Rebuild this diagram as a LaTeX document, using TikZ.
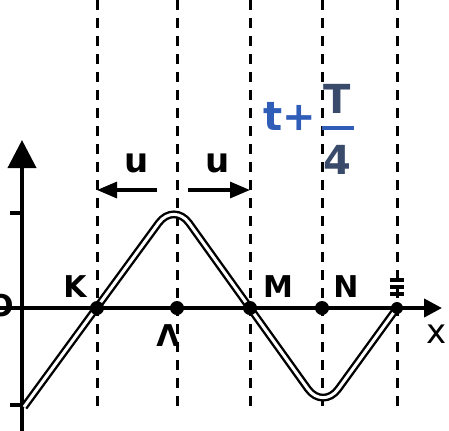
\documentclass[tikz,border=0pt]{standalone}
\usepackage{fontspec}
\setmainfont{DejaVu Sans}
\usetikzlibrary{arrows.meta}
\definecolor{penblue}{HTML}{2F5DB8}
\definecolor{penfrac}{HTML}{3A4A6A}
\tikzset{
  guide/.style={line width=1.5pt, dash pattern=on 5pt off 4pt},
  axis/.style={line width=2pt},
  wave/.style={double=white, double distance=1.5pt, line width=1.2pt, rounded corners=13pt, line join=round},
  lbl/.style={font=\fontsize{15}{18}\selectfont\bfseries, inner sep=0pt},
  ulbl/.style={font=\fontsize{17}{20}\selectfont\bfseries, inner sep=0pt},
  pt/.style={circle, fill=black, inner sep=0pt, minimum size=7pt},
  uarrow/.style={line width=1.6pt, -{Triangle[length=10pt,width=8pt]}}
}
\begin{document}
\begin{tikzpicture}[x=0.5pt,y=-0.5pt]
\useasboundingbox (0,0) rectangle (449,430);
% vertical dashed guide lines
\foreach \n/\x in {gK/97, gA/177, gM/250, gN/322, gE/397}{
  \coordinate (\n t) at (\x,0);
  \coordinate (\n b) at (\x,410);
  \draw[guide] (\n t) -- (\n b);
}
% axes
\coordinate (ybot) at (22,432);
\coordinate (ytop) at (22,140);
\coordinate (xl) at (0,308);
\coordinate (xr) at (442,308);
\draw[axis, -{Triangle[length=14pt,width=14pt]}] (ybot) -- (ytop);
\draw[axis, -{Triangle[length=9pt,width=9pt]}] (xl) -- (xr);
\coordinate (t1a) at (10,213); \coordinate (t1b) at (22,213);
\coordinate (t2a) at (10,405); \coordinate (t2b) at (22,405);
\draw[axis] (t1a) -- (t1b);
\draw[axis] (t2a) -- (t2b);
% wave
\coordinate (w0) at (24,407);
\coordinate (w1) at (174,202);
\coordinate (w2) at (323,410);
\coordinate (w3) at (397,308);
\draw[wave] (w0) -- (w1) -- (w2) -- (w3);
% points
\node[pt] (K) at (97,308) {};
\node[pt] (A) at (177,308) {};
\node[pt] (M) at (250,308) {};
\node[pt] (N) at (322,308) {};
\node[pt, minimum size=6pt] (E) at (397,308) {};
% labels
\node[lbl] (lK) at (75,287) {K};
\node[lbl] (lA) at (168,336) {Λ};
\node[lbl] (lM) at (278,287) {M};
\node[lbl] (lN) at (346,287) {N};
\node[lbl, font=\fontsize{17}{20}\selectfont] (lx) at (437,334) {x};
\node[lbl] (lO) at (1,306) {O};
\coordinate (e1a) at (390,280); \coordinate (e1b) at (404,280);
\coordinate (e2a) at (390,287); \coordinate (e2b) at (404,287);
\coordinate (e3a) at (390,294); \coordinate (e3b) at (404,294);
\draw[line width=1.6pt] (e1a) -- (e1b) (e2a) -- (e2b) (e3a) -- (e3b);
% u arrows
\coordinate (u1s) at (157,190); \coordinate (u1e) at (97,190);
\coordinate (u2s) at (188,190); \coordinate (u2e) at (250,190);
\draw[uarrow] (u1s) -- (u1e);
\draw[uarrow] (u2s) -- (u2e);
\node[ulbl] (u1) at (137,163) {u};
\node[ulbl] (u2) at (218,163) {u};
% t + T/4
\node[font=\fontsize{20}{24}\selectfont\bfseries, text=penblue, inner sep=0pt] (tp) at (290,116) {t+};
\node[font=\fontsize{20}{24}\selectfont\bfseries, text=penfrac, inner sep=0pt] (fT) at (337,99) {T};
\node[font=\fontsize{20}{24}\selectfont\bfseries, text=penfrac, inner sep=0pt] (f4) at (337,160) {4};
\coordinate (fba) at (322,128); \coordinate (fbb) at (354,128);
\draw[penblue, line width=1.6pt] (fba) -- (fbb);
\end{tikzpicture}
\end{document}
